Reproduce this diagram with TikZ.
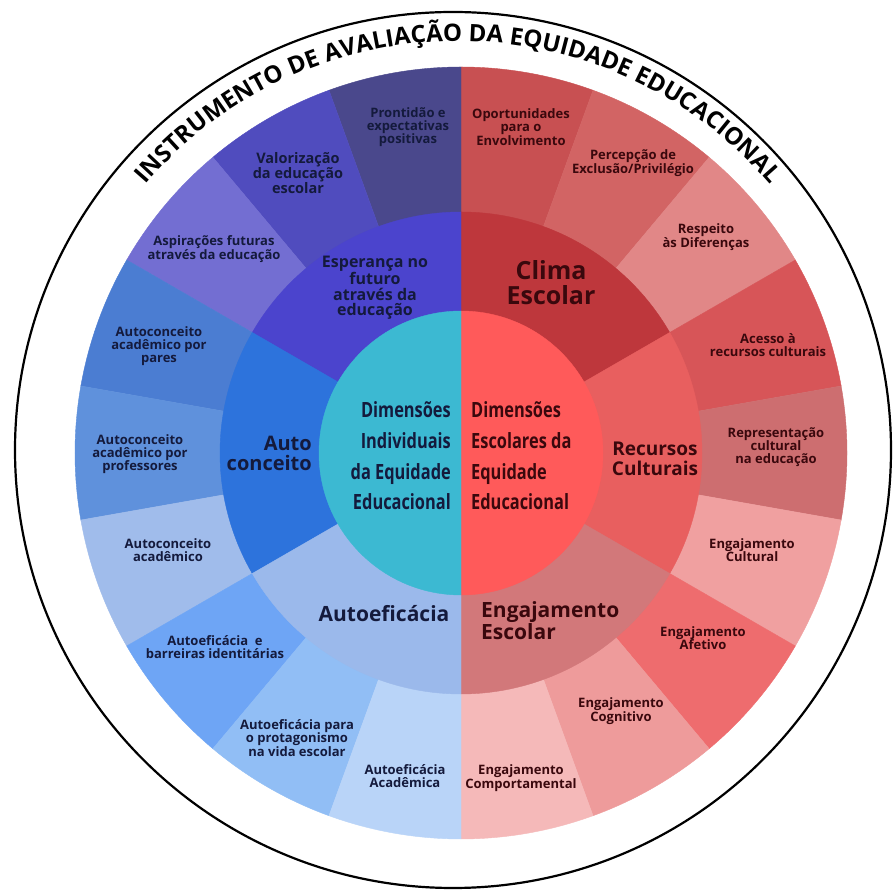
\documentclass[tikz,border=0pt]{standalone}
\usepackage{fontspec}
\setmainfont{Open Sans}
\newfontfamily\condfont[FakeStretch=0.78]{Open Sans}
\usetikzlibrary{decorations.text}
% outer ring colours (right, from top clockwise)
\definecolor{rA}{HTML}{C85052}
\definecolor{rB}{HTML}{D26464}
\definecolor{rC}{HTML}{E18787}
\definecolor{rD}{HTML}{D75558}
\definecolor{rE}{HTML}{CD6E70}
\definecolor{rF}{HTML}{F0A0A0}
\definecolor{rG}{HTML}{EE6C6E}
\definecolor{rH}{HTML}{EE9B9B}
\definecolor{rI}{HTML}{F5B9B9}
% outer ring colours (left, from top anticlockwise)
\definecolor{lA}{HTML}{4A488C}
\definecolor{lB}{HTML}{504CBE}
\definecolor{lC}{HTML}{736ED2}
\definecolor{lD}{HTML}{4B7DD2}
\definecolor{lE}{HTML}{5F91DC}
\definecolor{lF}{HTML}{A0BCEB}
\definecolor{lG}{HTML}{6EA5F5}
\definecolor{lH}{HTML}{91BEF5}
\definecolor{lI}{HTML}{B9D4F8}
% middle ring
\definecolor{mClima}{HTML}{BE373C}
\definecolor{mRec}{HTML}{E85F5F}
\definecolor{mEng}{HTML}{D2787A}
\definecolor{mEsp}{HTML}{4B44CD}
\definecolor{mAuto}{HTML}{2D73DC}
\definecolor{mEfic}{HTML}{9BB9EB}
% centre
\definecolor{cRed}{HTML}{FF5A5A}
\definecolor{cCyan}{HTML}{3CB9D2}
% text
\definecolor{navyText}{HTML}{141A3C}
\definecolor{maroonText}{HTML}{3A080D}
\tikzset{
  outlbl/.style={font=\bfseries\fontsize{13}{13.3}\selectfont, align=center, inner sep=0pt},
  bluelbl/.style={outlbl, text=navyText},
  redlbl/.style={outlbl, text=maroonText},
  midlbl/.style={font=\bfseries, inner sep=0pt},
  centerlbl/.style={font=\condfont\bfseries\fontsize{21}{30.6}\selectfont, inner sep=0pt},
}
\begin{document}
\begin{tikzpicture}[x=1pt,y=1pt]
\useasboundingbox (0,0) rectangle (892,894);
\fill[white] (0,0) rectangle (892,894);
\coordinate (C) at (461,441);

% outer ring
\foreach \s/\e/\c in {70/90/rA, 50/70/rB, 30/50/rC, 10/30/rD, -10/10/rE, -30/-10/rF, -50/-30/rG, -70/-50/rH, -90/-70/rI,
                      90/110/lA, 110/130/lB, 130/150/lC, 150/170/lD, 170/190/lE, 190/210/lF, 210/230/lG, 230/250/lH, 250/270/lI}
  \fill[\c, draw=\c, line width=0.4] (C) -- ++(\s:386) arc[start angle=\s, end angle=\e, radius=386] -- cycle;

% middle ring
\foreach \s/\e/\c in {30/90/mClima, -30/30/mRec, -90/-30/mEng, 90/150/mEsp, 150/210/mAuto, 210/270/mEfic}
  \fill[\c, draw=\c, line width=0.4] (C) -- ++(\s:241) arc[start angle=\s, end angle=\e, radius=241] -- cycle;

% centre disk
\fill[cRed, draw=cRed, line width=0.4] (C) -- ++(-90:142) arc[start angle=-90, end angle=90, radius=142] -- cycle;
\fill[cCyan, draw=cCyan, line width=0.4] (C) -- ++(90:142) arc[start angle=90, end angle=270, radius=142] -- cycle;

% outer frame circle
\draw[line width=2.2, black] (453,444) circle[radius=438];

% title along arc
\path[shift={(458,441)}, decorate, decoration={text along path, text align=center,
   text={|\bfseries\fontsize{24}{24}\selectfont|INSTRUMENTO DE AVALIAÇÃO DA EQUIDADE EDUCACIONAL}}]
   (141:412) arc[start angle=141, end angle=39, radius=412];

% outer labels, left
\node[bluelbl] (pront) at (408,767) {Prontidão e\\expectativas\\positivas};
\node[bluelbl, font=\bfseries\fontsize{14.5}{15}\selectfont] (valor) at (298,721) {Valorização\\da educação\\escolar};
\node[bluelbl] (aspir) at (214,645) {Aspirações futuras\\através da educação};
\node[bluelbl] (pares) at (159,548) {Autoconceito\\acadêmico por\\pares};
\node[bluelbl] (profs) at (140,440) {Autoconceito\\acadêmico por\\professores};
\node[bluelbl] (acadc) at (168,344) {Autoconceito\\acadêmico};
\node[bluelbl] (barr) at (215,247) {Autoeficácia\ \ e\\barreiras identitárias};
\node[bluelbl] (prot) at (297,156) {Autoeficácia para\\o protagonismo\\na vida escolar};
\node[bluelbl] (acade) at (405,118) {Autoeficácia\\Acadêmica};

% outer labels, right
\node[redlbl] (oport) at (521,767) {Oportunidades\\para o\\Envolvimento};
\node[redlbl] (perc) at (633,731) {Percepção de\\Exclusão/Privilégio};
\node[redlbl] (resp) at (706,657) {Respeito\\às Diferenças};
\node[redlbl] (aces) at (768,549) {Acesso à\\recursos culturais};
\node[redlbl] (repr) at (776,447) {Representação\\cultural\\na educação};
\node[redlbl] (engcul) at (752,344) {Engajamento\\Cultural};
\node[redlbl] (engafe) at (703,256) {Engajamento\\Afetivo};
\node[redlbl] (engcog) at (621,183) {Engajamento\\Cognitivo};
\node[redlbl] (engcom) at (521,116) {Engajamento\\Comportamental};

% middle labels
\node[midlbl, text=navyText, align=center, font=\bfseries\fontsize{16}{15.5}\selectfont] (esp) at (375,606) {Esperança no\\futuro\\através da\\educação};
\node[midlbl, text=navyText, align=right, anchor=east, font=\bfseries\fontsize{20}{20}\selectfont] (autoc) at (312,441) {Auto\\conceito};
\node[midlbl, text=navyText, font=\bfseries\fontsize{21}{21}\selectfont] (autoe) at (384,280) {Autoeficácia};
\node[midlbl, text=maroonText, align=center, font=\bfseries\fontsize{25}{25}\selectfont] (clima) at (551,611) {Clima\\Escolar};
\node[midlbl, text=maroonText, align=center, font=\bfseries\fontsize{19}{20}\selectfont] (recur) at (655,435) {Recursos\\Culturais};
\node[midlbl, text=maroonText, align=left, anchor=west, font=\bfseries\fontsize{21}{22}\selectfont] (engesc) at (481,273) {Engajamento\\Escolar};

% centre labels
\node[centerlbl, text=navyText, align=right, anchor=east] (indiv) at (451,438) {Dimensões\\Individuais\\da Equidade\\Educacional};
\node[centerlbl, text=maroonText, align=left, anchor=west] (escol) at (471,438) {Dimensões\\Escolares da\\Equidade\\Educacional};
\end{tikzpicture}
\end{document}
